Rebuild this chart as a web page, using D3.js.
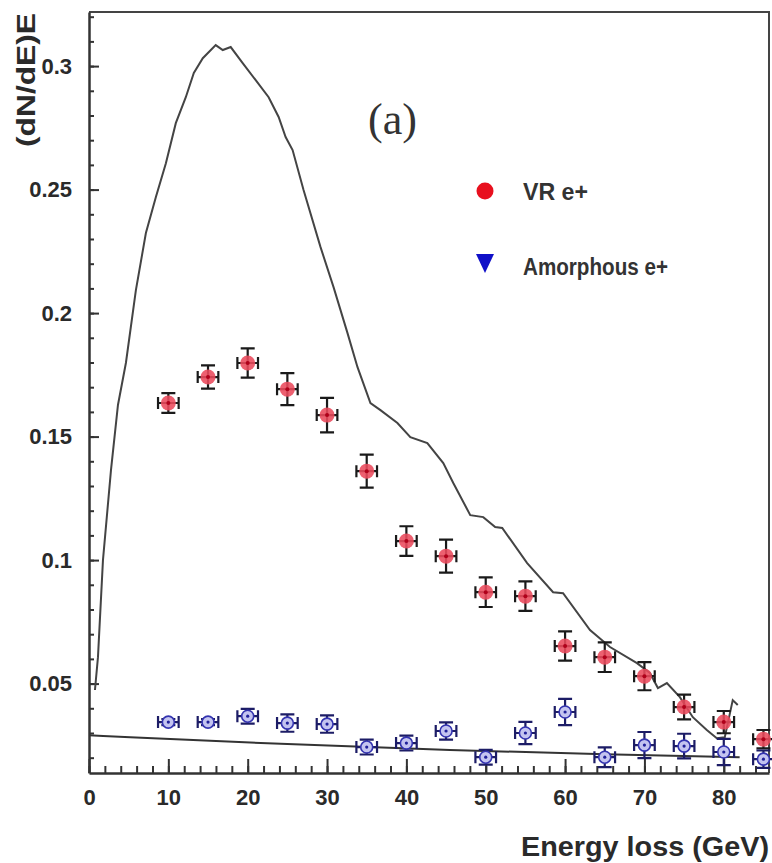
<!DOCTYPE html>
<html>
<head>
<meta charset="utf-8">
<script src="https://cdn.jsdelivr.net/npm/d3@7"></script>
<style>
  body { margin: 0; background: #fff; }
  #chart text { font-family: "Liberation Sans", Arial, sans-serif; }
</style>
</head>
<body>
<div id="chart"></div>
<script>
// Energy bins of the measured points (GeV)
const energy = [10, 15, 20, 25, 30, 35, 40, 45, 50, 55, 60, 65, 70, 75, 80, 85];

// VR e+ (red points)
const vrValues = [0.1636, 0.1741, 0.1798, 0.1692, 0.1587, 0.1360, 0.1077, 0.1016,
                  0.0870, 0.0854, 0.0652, 0.0607, 0.0530, 0.0405, 0.0344, 0.0275];
const vrErrors = [0.0040, 0.0047, 0.0059, 0.0065, 0.0070, 0.0067, 0.0060, 0.0067,
                  0.0060, 0.0060, 0.0059, 0.0060, 0.0057, 0.0050, 0.0045, 0.0037];

// Amorphous e+ (blue points)
const amoValues = [0.0344, 0.0344, 0.0368, 0.0340, 0.0336, 0.0243, 0.0259, 0.0308,
                   0.0202, 0.0300, 0.0385, 0.0202, 0.0251, 0.0247, 0.0223, 0.0194];
const amoErrors = [0.0012, 0.0012, 0.0030, 0.0035, 0.0035, 0.0030, 0.0030, 0.0035,
                   0.0030, 0.0045, 0.0053, 0.0040, 0.0053, 0.0050, 0.0053, 0.0035];

// half width of the energy bin shown as horizontal error
const energyErr = 1.3;

// simulation curve for VR
const simVrE = [0.75, 1.13, 1.76, 2.77, 3.65, 4.65, 5.91, 7.17, 8.43, 9.69, 10.94, 12.20,
                13.21, 14.34, 15.97, 16.86, 17.86, 19.37, 21.01, 22.64, 23.90, 24.78, 25.66,
                27.04, 29.18, 30.82, 32.58, 33.84, 35.47, 36.73, 38.87, 40.50, 42.64, 44.65,
                45.91, 48.05, 49.69, 51.19, 52.08, 55.22, 58.49, 59.75, 63.14, 65.66, 69.06,
                70.69, 71.70, 72.83, 74.47, 76.10, 77.86, 79.12, 80.13, 81.13, 81.76];
const simVrN = [0.0474, 0.0607, 0.1000, 0.1364, 0.1628, 0.1798, 0.2093, 0.2324, 0.2470,
                0.2607, 0.2769, 0.2874, 0.2972, 0.3032, 0.3085, 0.3065, 0.3077, 0.3012,
                0.2943, 0.2874, 0.2794, 0.2713, 0.2660, 0.2498, 0.2267, 0.2105, 0.1919,
                0.1781, 0.1636, 0.1607, 0.1555, 0.1498, 0.1474, 0.1393, 0.1312, 0.1182,
                0.1174, 0.1134, 0.1130, 0.0988, 0.0870, 0.0866, 0.0717, 0.0648, 0.0583,
                0.0543, 0.0482, 0.0502, 0.0445, 0.0364, 0.0312, 0.0279, 0.0283, 0.0433, 0.0413];

// simulation line for amorphous
const simAmoE = [0, 5.2, 25, 45.5, 65, 82];
const simAmoN = [0.0291, 0.0283, 0.0255, 0.0231, 0.0214, 0.0202];

// ticks
const xTicks = [0, 10, 20, 30, 40, 50, 60, 70, 80];
const yTicks = [0.05, 0.1, 0.15, 0.2, 0.25, 0.3];
const yTickLabels = ["0.05", "0.1", "0.15", "0.2", "0.25", "0.3"];

const width = 772;
const height = 863;
const margin = { top: 12, right: 3, bottom: 90, left: 89 };
const innerW = width - margin.left - margin.right;
const innerH = height - margin.top - margin.bottom;

const svg = d3.select("#chart")
    .append("svg")
    .attr("width", width)
    .attr("height", height);

const g = svg.append("g")
    .attr("transform", `translate(${margin.left},${margin.top})`);

const x = d3.scaleLinear().domain([0, 85.7]).range([0, innerW]);
const y = d3.scaleLinear().domain([0.0138, 0.3219]).range([innerH, 0]);

// frame (top and right)
g.append("path")
    .attr("d", `M0,0H${innerW}V${innerH}`)
    .attr("fill", "none")
    .attr("stroke", "#444")
    .attr("stroke-width", 2);

// x axis: minor then major ticks, inward
g.append("g")
    .attr("transform", `translate(0,${innerH})`)
    .call(d3.axisBottom(x).tickValues(d3.range(0, 86, 2)).tickSize(-7).tickSizeOuter(0).tickFormat(""))
    .call(a => a.select(".domain").remove());

const xAxis = g.append("g")
    .attr("transform", `translate(0,${innerH})`)
    .call(d3.axisBottom(x).tickValues(xTicks).tickSize(-14).tickSizeOuter(0).tickPadding(16).tickFormat(d3.format("d")));

// y axis
g.append("g")
    .call(d3.axisLeft(y).tickValues(d3.range(0.02, 0.325, 0.01)).tickSize(-5).tickSizeOuter(0).tickFormat(""))
    .call(a => a.select(".domain").remove());

const yAxis = g.append("g")
    .call(d3.axisLeft(y).tickValues(yTicks).tickSize(-10).tickSizeOuter(0).tickPadding(17)
        .tickFormat((d, i) => yTickLabels[i]));

[xAxis, yAxis].forEach(a => {
    a.select(".domain").attr("stroke", "#333").attr("stroke-width", 2.5);
    a.selectAll("text").attr("font-size", 22).attr("font-weight", "bold").attr("fill", "#2a2a2a");
});
g.selectAll(".tick line").attr("stroke", "#333").attr("stroke-width", 2);

// simulation lines
const line = d3.line().x(d => x(d[0])).y(d => y(d[1]));

g.append("path")
    .datum(d3.zip(simAmoE, simAmoN))
    .attr("d", line.curve(d3.curveMonotoneX))
    .attr("fill", "none")
    .attr("stroke", "#333")
    .attr("stroke-width", 2);

g.append("path")
    .datum(d3.zip(simVrE, simVrN))
    .attr("d", line.curve(d3.curveLinear))
    .attr("fill", "none")
    .attr("stroke", "#444")
    .attr("stroke-width", 2);

// error bars with end caps
function errorBars(values, errors, color) {
    const capW = 7, capH = 6;
    const pts = energy.map((e, i) => ({ e, v: values[i], err: errors[i] }));
    const eg = g.append("g").attr("stroke", color).attr("stroke-width", 2.2).attr("fill", "none");
    eg.selectAll("path")
        .data(pts)
        .enter()
        .append("path")
        .attr("d", d => {
            const cx = x(d.e), cy = y(d.v);
            const y0 = y(d.v - d.err), y1 = y(d.v + d.err);
            const x0 = x(d.e - energyErr), x1 = x(d.e + energyErr);
            return `M${cx},${y0}V${y1}` +
                `M${cx - capW},${y0}H${cx + capW}M${cx - capW},${y1}H${cx + capW}` +
                `M${x0},${cy}H${x1}` +
                `M${x0},${cy - capH}V${cy + capH}M${x1},${cy - capH}V${cy + capH}`;
        });
    return pts;
}

const vrPts = errorBars(vrValues, vrErrors, "#1a1a1a");
g.selectAll(".vr")
    .data(vrPts)
    .enter()
    .append("circle")
    .attr("class", "vr")
    .attr("cx", d => x(d.e))
    .attr("cy", d => y(d.v))
    .attr("r", 7.5)
    .attr("fill", "#ea4a5c")
    .attr("fill-opacity", 0.88);
g.selectAll(".vrc")
    .data(vrPts)
    .enter()
    .append("circle")
    .attr("cx", d => x(d.e))
    .attr("cy", d => y(d.v))
    .attr("r", 2)
    .attr("fill", "#b0001a");

const amoPts = errorBars(amoValues, amoErrors, "#1c1c66");
g.selectAll(".amo")
    .data(amoPts)
    .enter()
    .append("circle")
    .attr("class", "amo")
    .attr("cx", d => x(d.e))
    .attr("cy", d => y(d.v))
    .attr("r", 6)
    .attr("fill", "#c4c4f0")
    .attr("stroke", "#3434b0")
    .attr("stroke-width", 1.6);
g.selectAll(".amoc")
    .data(amoPts)
    .enter()
    .append("circle")
    .attr("cx", d => x(d.e))
    .attr("cy", d => y(d.v))
    .attr("r", 1.6)
    .attr("fill", "#20209a");

// panel label
svg.append("text")
    .attr("x", 368)
    .attr("y", 134)
    .attr("font-size", 44)
    .attr("textLength", 49)
    .attr("lengthAdjust", "spacingAndGlyphs")
    .attr("fill", "#333")
    .style("font-family", "'Liberation Serif', 'Times New Roman', serif")
    .text("(a)");

// legend
svg.append("circle")
    .attr("cx", 485).attr("cy", 191).attr("r", 8.5)
    .attr("fill", "#e8101e");
svg.append("text")
    .attr("x", 523).attr("y", 200)
    .attr("font-size", 23).attr("font-weight", "bold").attr("fill", "#333")
    .attr("textLength", 65).attr("lengthAdjust", "spacingAndGlyphs")
    .text("VR e+");
svg.append("path")
    .attr("d", "M476,254L494,254L485,273Z")
    .attr("fill", "#1010c8");
svg.append("text")
    .attr("x", 523).attr("y", 275)
    .attr("font-size", 23).attr("font-weight", "bold").attr("fill", "#333")
    .attr("textLength", 145).attr("lengthAdjust", "spacingAndGlyphs")
    .text("Amorphous e+");

// axis titles
svg.append("text")
    .attr("x", 769).attr("y", 856)
    .attr("text-anchor", "end")
    .attr("font-size", 28).attr("font-weight", "bold").attr("fill", "#2a2a2a")
    .attr("textLength", 248).attr("lengthAdjust", "spacingAndGlyphs")
    .text("Energy loss (GeV)");

svg.append("text")
    .attr("transform", "translate(35,13) rotate(-90)")
    .attr("text-anchor", "end")
    .attr("font-size", 25).attr("font-weight", "bold").attr("fill", "#2a2a2a")
    .attr("textLength", 134).attr("lengthAdjust", "spacingAndGlyphs")
    .text("(dN/dE)E");
</script>
</body>
</html>
